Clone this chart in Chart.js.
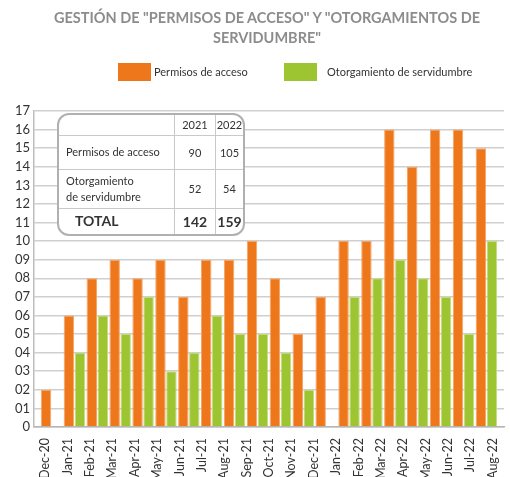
<!DOCTYPE html>
<html>
<head>
<meta charset="utf-8">
<script src="https://cdn.jsdelivr.net/npm/chart.js@4.4.1/dist/chart.umd.min.js"></script>
<style>
    body { margin: 0; background: #fff; font-family: Lato, sans-serif; }
    #wrap { position: relative; width: 510px; height: 477px; }
    #titulo { position: absolute; left: 0; top: 8px; width: 534px; text-align: center; font-size: 14.5px; font-weight: bold;
        line-height: 20px; color: #8c8c8c; }
    .legBox { position: absolute; top: 63px; width: 33px; height: 18px; }
    .legTxt { position: absolute; top: 63px; height: 18px; line-height: 18px; font-size: 11px; color: #333; white-space: nowrap; }
    #resumen { position: absolute; left: 57px; top: 113px; width: 188px; height: 123px; box-sizing: border-box;
        border: 2.5px solid #b0b0b0; border-radius: 12px; background: #fff; overflow: hidden; }
    #resumen table { width: 100%; height: 100%; border-collapse: collapse; border-style: hidden; font-size: 11px; color: #333; }
    #resumen td { border: 1px solid #c9c9c9; padding: 0; text-align: center; }
    #resumen td.lab { text-align: left; padding-left: 7px; white-space: pre-line; line-height: 16px; }
    #resumen tr.total td { font-weight: bold; font-size: 14px; }
    #resumen tr.total td.lab { padding-left: 16px; }
</style>
</head>
<body>
<div id="wrap">
    <canvas id="chart1" width="510" height="477"></canvas>
    <div id="titulo"></div>
    <div id="legend"></div>
    <div id="resumen"></div>
</div>
<script>
// etiquetas del eje (el original trae 21 rótulos para 20 grupos de barras)
var axisLabels = ['Dec-20', 'Jan-21', 'Feb-21', 'Mar-21', 'Apr-21', 'May-21', 'Jun-21', 'Jul-21', 'Aug-21', 'Sep-21', 'Oct-21',
    'Nov-21', 'Dec-21', 'Jan-22', 'Feb-22', 'Mar-22', 'Apr-22', 'May-22', 'Jun-22', 'Jul-22', 'Aug-22'];
var seriesNames = ['Permisos de acceso', 'Otorgamiento de servidumbre'];
var permisos = [2, 6, 8, 9, 8, 9, 7, 9, 9, 10, 8, 5, 7, 10, 10, 16, 14, 16, 16, 15];
var servidumbre = [0, 4, 6, 5, 7, 3, 4, 6, 5, 5, 4, 2, 0, 7, 8, 9, 8, 7, 5, 10];
var yTicks = ['0', '01', '02', '03', '04', '05', '06', '07', '08', '09', '10', '11', '12', '13', '14', '15', '16', '17'];
var titleLines = ['GESTIÓN DE "PERMISOS DE ACCESO" Y "OTORGAMIENTOS DE', 'SERVIDUMBRE"'];

// tabla resumen
var tableYears = ['2021', '2022'];
var tableRowLabels = ['Permisos de acceso', 'Otorgamiento\nde servidumbre', 'TOTAL'];
var tablePermisos = [90, 105];
var tableServidumbre = [52, 54];
var tableTotal = [142, 159];

var colores = ['#ee761b', '#9dc431'];
var bordes = ['#f4a566', '#c3dc7e'];

document.getElementById('titulo').innerHTML = titleLines.join('<br>');

// leyenda
var legendPos = [[118, 154], [284, 327]];
var legend = document.getElementById('legend');
seriesNames.forEach(function (name, i) {
    var box = document.createElement('div');
    box.className = 'legBox';
    box.style.left = legendPos[i][0] + 'px';
    box.style.background = colores[i];
    legend.appendChild(box);
    var txt = document.createElement('div');
    txt.className = 'legTxt';
    txt.style.left = legendPos[i][1] + 'px';
    txt.textContent = name;
    legend.appendChild(txt);
});

// tabla
function buildTable() {
    var rows = [
        [''].concat(tableYears),
        [tableRowLabels[0]].concat(tablePermisos),
        [tableRowLabels[1]].concat(tableServidumbre),
        [tableRowLabels[2]].concat(tableTotal)
    ];
    var heights = [20, 34, 39, null];
    var widths = [108, 40, null];
    var table = document.createElement('table');
    rows.forEach(function (r, i) {
        var tr = document.createElement('tr');
        if (i === 3) tr.className = 'total';
        if (heights[i]) tr.style.height = heights[i] + 'px';
        r.forEach(function (c, j) {
            var td = document.createElement('td');
            if (j === 0) td.className = 'lab';
            if (i === 0 && widths[j]) td.style.width = widths[j] + 'px';
            td.textContent = c;
            tr.appendChild(td);
        });
        table.appendChild(tr);
    });
    document.getElementById('resumen').appendChild(table);
}
buildTable();

var ctx = document.getElementById('chart1').getContext('2d');
var myChart = new Chart(ctx, {
    type: 'bar',
    data: {
        datasets: [{
            label: seriesNames[0],
            data: permisos.map(function (v, i) { return { x: i, y: v }; }),
            backgroundColor: colores[0],
            borderColor: bordes[0],
            borderWidth: 1,
            xAxisID: 'x'
        }, {
            label: seriesNames[1],
            data: servidumbre.map(function (v, i) { return { x: i, y: v }; }),
            backgroundColor: colores[1],
            borderColor: bordes[1],
            borderWidth: 1,
            xAxisID: 'x'
        }]
    },
    options: {
        responsive: false,
        animation: false,
        layout: { padding: { left: 0, right: 6, top: 111, bottom: 0 } },
        datasets: { bar: { categoryPercentage: 0.96, barPercentage: 0.95 } },
        plugins: {
            legend: { display: false },
            tooltip: { enabled: false }
        },
        scales: {
            // eje de las barras (oculto), los rótulos van en "meses"
            x: {
                type: 'linear', min: -0.765, max: 19.77, display: false, offset: false,
                afterBuildTicks: function (scale) {
                    scale.ticks = permisos.map(function (v, i) { return { value: i }; });
                }
            },
            meses: {
                type: 'category',
                axis: 'x',
                position: 'bottom',
                labels: axisLabels,
                offset: true,
                grid: { display: false },
                border: { display: true, color: '#b5b5b5', width: 1.5 },
                ticks: { minRotation: 90, maxRotation: 90, autoSkip: false, padding: 3, color: '#333',
                    font: { family: 'Lato', size: 12.5 } },
                afterFit: function (scale) { scale.height = 50; scale.paddingRight = 0; }
            },
            y: {
                min: 0,
                max: 17,
                ticks: {
                    stepSize: 1, autoSkip: false, padding: 4, color: '#333',
                    font: { family: 'Lato', size: 13 },
                    callback: function (value) { return yTicks[value]; }
                },
                grid: { color: '#cfcfcf', lineWidth: 1.5, drawTicks: false },
                border: { display: true, color: '#bdbdbd', width: 1.5 },
                afterFit: function (scale) { scale.width = 34; }
            }
        }
    }
});
</script>
</body>
</html>
